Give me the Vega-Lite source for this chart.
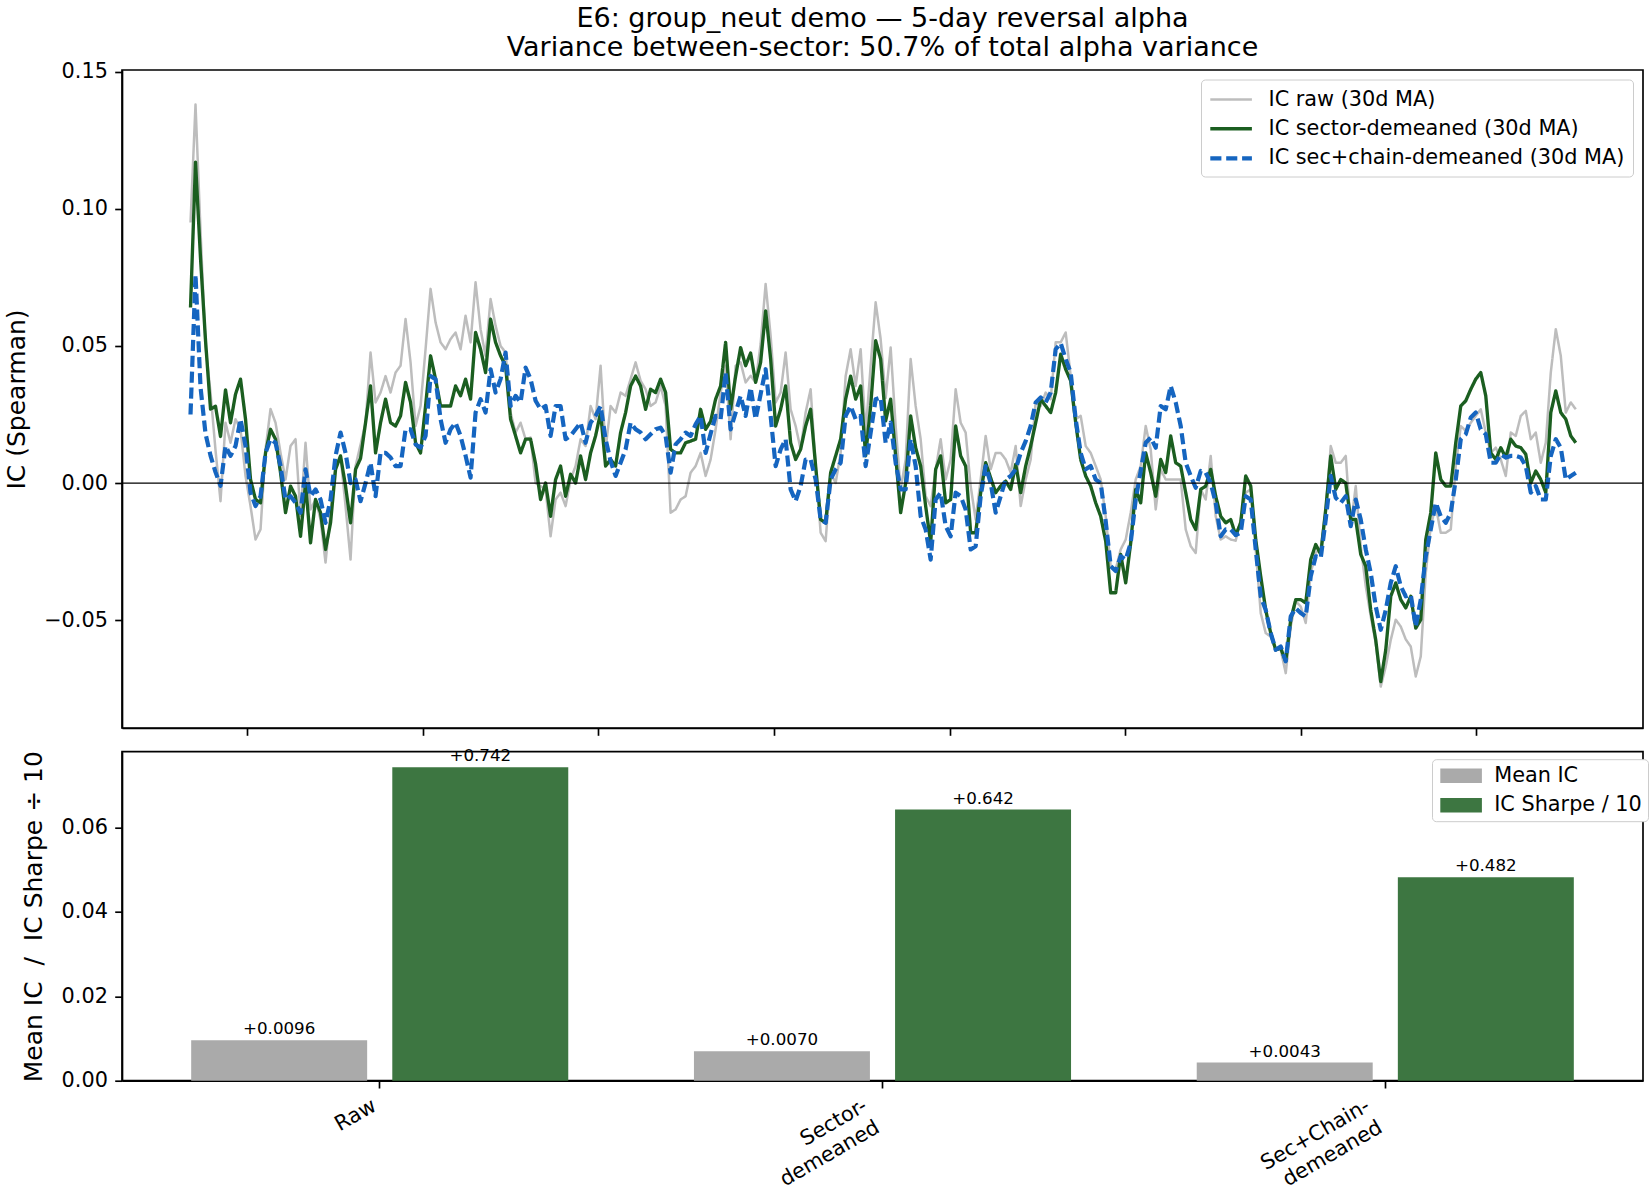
{
"$schema": "https://vega.github.io/schema/vega-lite/v6.json",
"background": "white",
"padding": {"left": 3, "top": 3, "right": 5, "bottom": 5},
"spacing": 9.7,
"config": {
  "font": "DejaVu Sans",
  "view": {"stroke": "black", "strokeWidth": 1.67},
  "axis": {"domainColor": "black", "domainWidth": 1.67, "tickColor": "black", "tickWidth": 1.67, "tickSize": 7.3, "labelPadding": 7.3, "labelFontSize": 20.8, "labelColor": "black", "labelFont": "DejaVu Sans", "titleFont": "DejaVu Sans", "titleFontSize": 25, "titleFontWeight": "normal", "titleColor": "black", "grid": false, "titlePadding": 14.6},
  "legend": {"labelFont": "DejaVu Sans", "labelFontSize": 20.8, "labelColor": "black"},
  "title": {"font": "DejaVu Sans", "fontSize": 27, "fontWeight": "normal", "color": "black"}
},
"resolve": {"scale": {"color": "independent", "strokeDash": "independent", "strokeWidth": "independent"}, "legend": {"color": "independent"}},
"vconcat": [
{
  "width": 1521, "height": 658,
  "title": {"text": ["E6: group_neut demo — 5-day reversal alpha", "Variance between-sector: 50.7% of total alpha variance"], "frame": "group", "anchor": "middle", "lineHeight": 29.5, "offset": -1.5},
  "data": {"values": [
{"i":0,"raw":0.095,"sec":0.064,"chain":0.025},{"i":1,"raw":0.138,"sec":0.117,"chain":0.076},{"i":2,"raw":0.092,"sec":0.082,"chain":0.035},{"i":3,"raw":0.05,"sec":0.052,"chain":0.018},{"i":4,"raw":0.033,"sec":0.027,"chain":0.01},{"i":5,"raw":0.012,"sec":0.028,"chain":0.004},{"i":6,"raw":-0.0066,"sec":0.017,"chain":-0.001},{"i":7,"raw":0.022,"sec":0.034,"chain":0.0135},{"i":8,"raw":0.0147,"sec":0.022,"chain":0.0099},{"i":9,"raw":0.0233,"sec":0.0324,"chain":0.0135},
{"i":10,"raw":0.0196,"sec":0.0379,"chain":0.0233},{"i":11,"raw":0.0026,"sec":0.0233,"chain":0.0135},{"i":12,"raw":-0.0084,"sec":0.0013,"chain":-0.0035},{"i":13,"raw":-0.0206,"sec":-0.006,"chain":-0.0084},{"i":14,"raw":-0.0169,"sec":-0.0072,"chain":-0.0048},{"i":15,"raw":0.0123,"sec":0.011,"chain":0.011},{"i":16,"raw":0.027,"sec":0.0196,"chain":0.016},{"i":17,"raw":0.022,"sec":0.016,"chain":0.0147},{"i":18,"raw":0.011,"sec":0.0038,"chain":0.0062},{"i":19,"raw":0.0013,"sec":-0.0108,"chain":-0.006},
{"i":20,"raw":0.0135,"sec":-0.0011,"chain":-0.0048},{"i":21,"raw":0.016,"sec":-0.0048,"chain":-0.0072},{"i":22,"raw":-0.012,"sec":-0.0194,"chain":-0.0108},{"i":23,"raw":0.0147,"sec":0.0,"chain":0.005},{"i":24,"raw":-0.0096,"sec":-0.0218,"chain":-0.0048},{"i":25,"raw":-0.006,"sec":-0.006,"chain":-0.0023},{"i":26,"raw":-0.0133,"sec":-0.0108,"chain":-0.006},{"i":27,"raw":-0.029,"sec":-0.0242,"chain":-0.0145},{"i":28,"raw":-0.0108,"sec":-0.0145,"chain":-0.006},{"i":29,"raw":0.0062,"sec":0.005,"chain":0.0099},
{"i":30,"raw":0.0099,"sec":0.0099,"chain":0.0184},{"i":31,"raw":-0.0084,"sec":-0.0011,"chain":0.011},{"i":32,"raw":-0.0279,"sec":-0.0145,"chain":0.0},{"i":33,"raw":0.0062,"sec":0.005,"chain":0.0013},{"i":34,"raw":0.014,"sec":0.009,"chain":-0.0066},{"i":35,"raw":0.022,"sec":0.022,"chain":0.0},{"i":36,"raw":0.0476,"sec":0.0354,"chain":0.0074},{"i":37,"raw":0.0294,"sec":0.011,"chain":-0.0048},{"i":38,"raw":0.033,"sec":0.022,"chain":0.011},{"i":39,"raw":0.039,"sec":0.0306,"chain":0.011},
{"i":40,"raw":0.033,"sec":0.022,"chain":0.0093},{"i":41,"raw":0.0403,"sec":0.0208,"chain":0.0062},{"i":42,"raw":0.0428,"sec":0.0245,"chain":0.0062},{"i":43,"raw":0.0598,"sec":0.0367,"chain":0.0196},{"i":44,"raw":0.044,"sec":0.0294,"chain":0.0196},{"i":45,"raw":0.0208,"sec":0.0147,"chain":0.0141},{"i":46,"raw":0.0281,"sec":0.011,"chain":0.0129},{"i":47,"raw":0.0488,"sec":0.0281,"chain":0.0172},{"i":48,"raw":0.0708,"sec":0.0464,"chain":0.039},{"i":49,"raw":0.0586,"sec":0.0379,"chain":0.0379},
{"i":50,"raw":0.0513,"sec":0.0281,"chain":0.0233},{"i":51,"raw":0.0488,"sec":0.0281,"chain":0.0147},{"i":52,"raw":0.0525,"sec":0.0281,"chain":0.0196},{"i":53,"raw":0.0549,"sec":0.0354,"chain":0.022},{"i":54,"raw":0.0488,"sec":0.0318,"chain":0.0172},{"i":55,"raw":0.061,"sec":0.0379,"chain":0.01},{"i":56,"raw":0.0513,"sec":0.0306,"chain":0.002},{"i":57,"raw":0.0732,"sec":0.0549,"chain":0.0257},{"i":58,"raw":0.0561,"sec":0.0488,"chain":0.0306},{"i":59,"raw":0.0464,"sec":0.0403,"chain":0.0257},
{"i":60,"raw":0.0671,"sec":0.0598,"chain":0.0415},{"i":61,"raw":0.0574,"sec":0.0513,"chain":0.033},{"i":62,"raw":0.05,"sec":0.0464,"chain":0.0379},{"i":63,"raw":0.0476,"sec":0.0428,"chain":0.0476},{"i":64,"raw":0.0257,"sec":0.0233,"chain":0.0281},{"i":65,"raw":0.0184,"sec":0.0172,"chain":0.0318},{"i":66,"raw":0.022,"sec":0.011,"chain":0.0294},{"i":67,"raw":0.016,"sec":0.016,"chain":0.0421},{"i":68,"raw":0.0166,"sec":0.016,"chain":0.0379},{"i":69,"raw":0.0,"sec":0.007,"chain":0.03},
{"i":70,"raw":-0.0011,"sec":-0.006,"chain":0.0269},{"i":71,"raw":-0.0023,"sec":0.0,"chain":0.0281},{"i":72,"raw":-0.0194,"sec":-0.0121,"chain":0.0172},{"i":73,"raw":-0.006,"sec":0.0013,"chain":0.0281},{"i":74,"raw":-0.0035,"sec":0.0062,"chain":0.0281},{"i":75,"raw":-0.0084,"sec":-0.0048,"chain":0.016},{"i":76,"raw":0.0013,"sec":0.0032,"chain":0.0172},{"i":77,"raw":0.0062,"sec":0.0,"chain":0.0196},{"i":78,"raw":0.016,"sec":0.0099,"chain":0.022},{"i":79,"raw":0.0135,"sec":0.0013,"chain":0.0147},
{"i":80,"raw":0.0281,"sec":0.011,"chain":0.022},{"i":81,"raw":0.0233,"sec":0.0172,"chain":0.0245},{"i":82,"raw":0.0428,"sec":0.0257,"chain":0.0281},{"i":83,"raw":0.0123,"sec":0.0062,"chain":0.016},{"i":84,"raw":0.0281,"sec":0.0086,"chain":0.008},{"i":85,"raw":0.0257,"sec":0.0062,"chain":0.0026},{"i":86,"raw":0.033,"sec":0.0184,"chain":0.0074},{"i":87,"raw":0.0318,"sec":0.0257,"chain":0.0123},{"i":88,"raw":0.0379,"sec":0.0354,"chain":0.022},{"i":89,"raw":0.044,"sec":0.039,"chain":0.0196},
{"i":90,"raw":0.0373,"sec":0.0354,"chain":0.0184},{"i":91,"raw":0.0342,"sec":0.0269,"chain":0.016},{"i":92,"raw":0.0281,"sec":0.0342,"chain":0.0178},{"i":93,"raw":0.0294,"sec":0.033,"chain":0.0196},{"i":94,"raw":0.0354,"sec":0.0379,"chain":0.0202},{"i":95,"raw":0.0281,"sec":0.033,"chain":0.0172},{"i":96,"raw":-0.0108,"sec":0.0123,"chain":0.0038},{"i":97,"raw":-0.0096,"sec":0.011,"chain":0.0141},{"i":98,"raw":-0.006,"sec":0.011,"chain":0.016},{"i":99,"raw":-0.0048,"sec":0.0147,"chain":0.0184},
{"i":100,"raw":0.0038,"sec":0.0153,"chain":0.0172},{"i":101,"raw":0.0062,"sec":0.016,"chain":0.0214},{"i":102,"raw":0.011,"sec":0.0269,"chain":0.0245},{"i":103,"raw":0.0026,"sec":0.0196,"chain":0.011},{"i":104,"raw":0.0086,"sec":0.0225,"chain":0.018},{"i":105,"raw":0.0196,"sec":0.0306,"chain":0.0245},{"i":106,"raw":0.033,"sec":0.0354,"chain":0.0233},{"i":107,"raw":0.0428,"sec":0.0513,"chain":0.0403},{"i":108,"raw":0.016,"sec":0.0269,"chain":0.0196},{"i":109,"raw":0.0428,"sec":0.039,"chain":0.0257},
{"i":110,"raw":0.044,"sec":0.0494,"chain":0.0318},{"i":111,"raw":0.0367,"sec":0.0428,"chain":0.0245},{"i":112,"raw":0.0391,"sec":0.0474,"chain":0.0348},{"i":113,"raw":0.0367,"sec":0.0367,"chain":0.0233},{"i":114,"raw":0.0507,"sec":0.044,"chain":0.0324},{"i":115,"raw":0.0726,"sec":0.0628,"chain":0.0415},{"i":116,"raw":0.0537,"sec":0.0452,"chain":0.0245},{"i":117,"raw":0.0294,"sec":0.0208,"chain":0.0062},{"i":118,"raw":0.033,"sec":0.0269,"chain":0.0123},{"i":119,"raw":0.0476,"sec":0.0354,"chain":0.016},
{"i":120,"raw":0.0269,"sec":0.0147,"chain":-0.0023},{"i":121,"raw":0.0208,"sec":0.0086,"chain":-0.0066},{"i":122,"raw":0.0123,"sec":0.0123,"chain":-0.0011},{"i":123,"raw":0.0257,"sec":0.0208,"chain":0.0086},{"i":124,"raw":0.0342,"sec":0.0269,"chain":0.0086},{"i":125,"raw":0.0062,"sec":0.0062,"chain":0.0013},{"i":126,"raw":-0.0181,"sec":-0.0133,"chain":-0.0133},{"i":127,"raw":-0.0212,"sec":-0.0145,"chain":-0.0145},{"i":128,"raw":0.0038,"sec":0.0038,"chain":0.0013},{"i":129,"raw":0.0,"sec":0.0099,"chain":0.005},
{"i":130,"raw":0.011,"sec":0.016,"chain":0.0074},{"i":131,"raw":0.039,"sec":0.0306,"chain":0.0245},{"i":132,"raw":0.0488,"sec":0.039,"chain":0.0281},{"i":133,"raw":0.0354,"sec":0.0306,"chain":0.0233},{"i":134,"raw":0.0488,"sec":0.0354,"chain":0.0245},{"i":135,"raw":0.0184,"sec":0.0099,"chain":0.0062},{"i":136,"raw":0.0428,"sec":0.0281,"chain":0.0184},{"i":137,"raw":0.0659,"sec":0.0519,"chain":0.0306},{"i":138,"raw":0.0525,"sec":0.0452,"chain":0.0312},{"i":139,"raw":0.031,"sec":0.0227,"chain":0.0147},
{"i":140,"raw":0.0494,"sec":0.0306,"chain":0.022},{"i":141,"raw":0.0208,"sec":0.0099,"chain":0.0074},{"i":142,"raw":-0.0023,"sec":-0.0108,"chain":-0.0023},{"i":143,"raw":0.0086,"sec":0.0,"chain":-0.0023},{"i":144,"raw":0.0452,"sec":0.0245,"chain":0.016},{"i":145,"raw":0.0281,"sec":0.0129,"chain":0.0062},{"i":146,"raw":0.016,"sec":0.0062,"chain":-0.0121},{"i":147,"raw":-0.0048,"sec":-0.0084,"chain":-0.0169},{"i":148,"raw":-0.0084,"sec":-0.0218,"chain":-0.0279},{"i":149,"raw":0.005,"sec":0.005,"chain":-0.006},
{"i":150,"raw":0.016,"sec":0.0099,"chain":-0.0035},{"i":151,"raw":0.0013,"sec":-0.0072,"chain":-0.0157},{"i":152,"raw":0.0086,"sec":-0.006,"chain":-0.0194},{"i":153,"raw":0.0342,"sec":0.0208,"chain":-0.0035},{"i":154,"raw":0.022,"sec":0.0099,"chain":-0.0048},{"i":155,"raw":0.0184,"sec":0.0062,"chain":-0.0096},{"i":156,"raw":-0.0011,"sec":-0.0181,"chain":-0.0242},{"i":157,"raw":-0.0133,"sec":-0.0181,"chain":-0.023},{"i":158,"raw":0.0013,"sec":-0.0035,"chain":-0.0048},{"i":159,"raw":0.0172,"sec":0.0074,"chain":0.0062},
{"i":160,"raw":0.005,"sec":0.0019,"chain":0.0},{"i":161,"raw":0.011,"sec":-0.0035,"chain":-0.0108},{"i":162,"raw":0.011,"sec":-0.0011,"chain":-0.0048},{"i":163,"raw":0.0086,"sec":0.0007,"chain":0.0013},{"i":164,"raw":0.0038,"sec":-0.0023,"chain":0.0026},{"i":165,"raw":0.0135,"sec":0.0068,"chain":0.005},{"i":166,"raw":-0.0084,"sec":-0.0035,"chain":0.011},{"i":167,"raw":0.0013,"sec":0.0062,"chain":0.0153},{"i":168,"raw":0.0086,"sec":0.0135,"chain":0.0208},{"i":169,"raw":0.0294,"sec":0.022,"chain":0.0294},
{"i":170,"raw":0.0281,"sec":0.0306,"chain":0.0312},{"i":171,"raw":0.033,"sec":0.0281,"chain":0.0294},{"i":172,"raw":0.0306,"sec":0.0257,"chain":0.033},{"i":173,"raw":0.0513,"sec":0.033,"chain":0.0488},{"i":174,"raw":0.0513,"sec":0.047,"chain":0.051},{"i":175,"raw":0.0549,"sec":0.0415,"chain":0.0452},{"i":176,"raw":0.0391,"sec":0.0373,"chain":0.0403},{"i":177,"raw":0.0233,"sec":0.022,"chain":0.0233},{"i":178,"raw":0.0245,"sec":0.0086,"chain":0.011},{"i":179,"raw":0.0135,"sec":0.0026,"chain":0.005},
{"i":180,"raw":0.011,"sec":-0.0011,"chain":0.0062},{"i":181,"raw":0.0062,"sec":-0.0072,"chain":0.0013},{"i":182,"raw":0.0013,"sec":-0.0121,"chain":0.0},{"i":183,"raw":-0.0121,"sec":-0.0212,"chain":-0.0139},{"i":184,"raw":-0.0303,"sec":-0.04,"chain":-0.0303},{"i":185,"raw":-0.0315,"sec":-0.04,"chain":-0.0321},{"i":186,"raw":-0.0242,"sec":-0.026,"chain":-0.0267},{"i":187,"raw":-0.0206,"sec":-0.0364,"chain":-0.0279},{"i":188,"raw":-0.0108,"sec":-0.0218,"chain":-0.0218},{"i":189,"raw":0.0013,"sec":-0.0023,"chain":-0.006},
{"i":190,"raw":0.0062,"sec":-0.0072,"chain":0.0044},{"i":191,"raw":0.0208,"sec":0.011,"chain":0.0147},{"i":192,"raw":0.0123,"sec":0.0038,"chain":0.0166},{"i":193,"raw":-0.0096,"sec":-0.0048,"chain":0.0129},{"i":194,"raw":0.005,"sec":0.0086,"chain":0.0281},{"i":195,"raw":0.0013,"sec":0.0038,"chain":0.0269},{"i":196,"raw":0.0013,"sec":0.0172,"chain":0.0354},{"i":197,"raw":0.0013,"sec":0.0074,"chain":0.0294},{"i":198,"raw":0.0013,"sec":0.0062,"chain":0.0208},{"i":199,"raw":-0.0169,"sec":-0.0035,"chain":0.0074},
{"i":200,"raw":-0.023,"sec":-0.0133,"chain":0.0026},{"i":201,"raw":-0.0255,"sec":-0.0169,"chain":-0.0017},{"i":202,"raw":-0.0023,"sec":-0.0023,"chain":0.0044},{"i":203,"raw":-0.006,"sec":-0.0011,"chain":0.0038},{"i":204,"raw":0.0099,"sec":0.005,"chain":0.0},{"i":205,"raw":-0.0121,"sec":-0.0048,"chain":-0.0072},{"i":206,"raw":-0.0206,"sec":-0.0121,"chain":-0.0194},{"i":207,"raw":-0.0194,"sec":-0.0145,"chain":-0.0169},{"i":208,"raw":-0.0206,"sec":-0.0133,"chain":-0.0169},{"i":209,"raw":-0.021,"sec":-0.019,"chain":-0.019},
{"i":210,"raw":-0.0133,"sec":-0.0145,"chain":-0.0181},{"i":211,"raw":-0.0035,"sec":0.0026,"chain":-0.0048},{"i":212,"raw":-0.0023,"sec":-0.0011,"chain":-0.006},{"i":213,"raw":-0.0242,"sec":-0.0206,"chain":-0.0242},{"i":214,"raw":-0.0474,"sec":-0.034,"chain":-0.0413},{"i":215,"raw":-0.0547,"sec":-0.0463,"chain":-0.0463},{"i":216,"raw":-0.056,"sec":-0.0547,"chain":-0.0547},{"i":217,"raw":-0.0608,"sec":-0.0608,"chain":-0.0608},{"i":218,"raw":-0.0608,"sec":-0.0602,"chain":-0.0596},{"i":219,"raw":-0.0693,"sec":-0.065,"chain":-0.065},
{"i":220,"raw":-0.0523,"sec":-0.0498,"chain":-0.0486},{"i":221,"raw":-0.0431,"sec":-0.0425,"chain":-0.0456},{"i":222,"raw":-0.045,"sec":-0.0425,"chain":-0.0474},{"i":223,"raw":-0.051,"sec":-0.0437,"chain":-0.0486},{"i":224,"raw":-0.0328,"sec":-0.0279,"chain":-0.034},{"i":225,"raw":-0.0255,"sec":-0.0224,"chain":-0.0267},{"i":226,"raw":-0.0236,"sec":-0.026,"chain":-0.0273},{"i":227,"raw":-0.0096,"sec":-0.0096,"chain":-0.0133},{"i":228,"raw":0.0135,"sec":0.0099,"chain":0.0026},{"i":229,"raw":0.0074,"sec":-0.0023,"chain":-0.0054},
{"i":230,"raw":0.0074,"sec":0.0013,"chain":-0.0072},{"i":231,"raw":0.0099,"sec":0.0,"chain":-0.0048},{"i":232,"raw":-0.0157,"sec":-0.0133,"chain":-0.0157},{"i":233,"raw":-0.0011,"sec":-0.0133,"chain":-0.006},{"i":234,"raw":-0.023,"sec":-0.026,"chain":-0.0133},{"i":235,"raw":-0.0376,"sec":-0.0303,"chain":-0.0242},{"i":236,"raw":-0.0486,"sec":-0.0463,"chain":-0.0328},{"i":237,"raw":-0.0584,"sec":-0.0572,"chain":-0.045},{"i":238,"raw":-0.0742,"sec":-0.0724,"chain":-0.0535},{"i":239,"raw":-0.0669,"sec":-0.0608,"chain":-0.0463},
{"i":240,"raw":-0.0572,"sec":-0.0413,"chain":-0.0364},{"i":241,"raw":-0.0498,"sec":-0.0364,"chain":-0.0303},{"i":242,"raw":-0.0523,"sec":-0.0425,"chain":-0.0376},{"i":243,"raw":-0.057,"sec":-0.0455,"chain":-0.0413},{"i":244,"raw":-0.0596,"sec":-0.0413,"chain":-0.0407},{"i":245,"raw":-0.0705,"sec":-0.0529,"chain":-0.0523},{"i":246,"raw":-0.0632,"sec":-0.0498,"chain":-0.0425},{"i":247,"raw":-0.0328,"sec":-0.0206,"chain":-0.0267},{"i":248,"raw":-0.0157,"sec":-0.0108,"chain":-0.0169},{"i":249,"raw":-0.0084,"sec":0.011,"chain":-0.0072},
{"i":250,"raw":-0.0181,"sec":0.0013,"chain":-0.0121},{"i":251,"raw":-0.0181,"sec":-0.0011,"chain":-0.0145},{"i":252,"raw":-0.0169,"sec":-0.0011,"chain":-0.0108},{"i":253,"raw":0.0062,"sec":0.0147,"chain":0.0013},{"i":254,"raw":0.0208,"sec":0.0281,"chain":0.016},{"i":255,"raw":0.019,"sec":0.03,"chain":0.0178},{"i":256,"raw":0.022,"sec":0.0342,"chain":0.0239},{"i":257,"raw":0.0245,"sec":0.0379,"chain":0.0257},{"i":258,"raw":0.0269,"sec":0.0403,"chain":0.0196},{"i":259,"raw":0.0184,"sec":0.0318,"chain":0.0178},
{"i":260,"raw":0.011,"sec":0.011,"chain":0.0074},{"i":261,"raw":0.0129,"sec":0.0086,"chain":0.0074},{"i":262,"raw":0.0086,"sec":0.0129,"chain":0.0105},{"i":263,"raw":0.0026,"sec":0.0093,"chain":0.0093},{"i":264,"raw":0.0184,"sec":0.016,"chain":0.0099},{"i":265,"raw":0.0172,"sec":0.0135,"chain":0.0099},{"i":266,"raw":0.0245,"sec":0.0129,"chain":0.0093},{"i":267,"raw":0.0263,"sec":0.0105,"chain":0.0062},{"i":268,"raw":0.016,"sec":0.0,"chain":-0.0035},{"i":269,"raw":0.0184,"sec":0.0044,"chain":-0.0011},
{"i":270,"raw":0.0074,"sec":0.0013,"chain":-0.006},{"i":271,"raw":0.0147,"sec":-0.0035,"chain":-0.006},{"i":272,"raw":0.0403,"sec":0.0257,"chain":0.0099},{"i":273,"raw":0.0561,"sec":0.0336,"chain":0.016},{"i":274,"raw":0.0464,"sec":0.0257,"chain":0.0129},{"i":275,"raw":0.0257,"sec":0.0233,"chain":0.0013},{"i":276,"raw":0.0294,"sec":0.0172,"chain":0.0026},{"i":277,"raw":0.0269,"sec":0.0147,"chain":0.0038}
  ]},
  "layer": [
    {
      "transform": [{"fold": ["raw", "sec", "chain"], "as": ["series", "ic"]}],
      "mark": {"type": "line", "strokeJoin": "round", "strokeCap": "butt"},
      "encoding": {
        "x": {"field": "i", "type": "quantitative", "scale": {"domain": [-13.7, 290.44], "nice": false, "zero": false}, "axis": {"values": [11.3, 46.42, 81.54, 116.66, 151.78, 186.9, 222.02, 257.14], "labels": false, "title": null}},
        "y": {"field": "ic", "type": "quantitative", "scale": {"domain": [-0.0893, 0.1506], "nice": false, "zero": false}, "axis": {"values": [-0.05, 0, 0.05, 0.1, 0.15], "labelExpr": "replace(format(datum.value, '.2f'), '-', '−')", "title": "IC (Spearman)"}},
        "color": {"field": "series", "type": "nominal", "scale": {"domain": ["raw", "sec", "chain"], "range": ["#bdbdbd", "#1b5e20", "#1565c0"]},
          "legend": {"title": null, "orient": "none", "legendX": 1079, "legendY": 9.5, "symbolType": "M-2,0H2", "symbolSize": 432.6, "symbolOffset": 9.6, "labelFontSize": 20.8, "padding": 8, "rowPadding": 6.7, "strokeColor": "#cccccc", "fillColor": "white", "cornerRadius": 4, "labelOffset": 24.9, "labelLimit": 0, "labelExpr": "datum.label == 'raw' ? 'IC raw (30d MA)' : datum.label == 'sec' ? 'IC sector-demeaned (30d MA)' : 'IC sec+chain-demeaned (30d MA)'"}},
        "strokeDash": {"field": "series", "type": "nominal", "scale": {"domain": ["raw", "sec", "chain"], "range": [[1, 0], [1, 0], [11.1, 4.8]]},
          "legend": {"title": null, "orient": "none", "legendX": 1079, "legendY": 9.5, "symbolType": "M-2,0H2", "symbolSize": 432.6, "symbolOffset": 9.6, "labelFontSize": 20.8, "padding": 8, "rowPadding": 6.7, "strokeColor": "#cccccc", "fillColor": "white", "cornerRadius": 4, "labelOffset": 24.9, "labelLimit": 0, "labelExpr": "datum.label == 'raw' ? 'IC raw (30d MA)' : datum.label == 'sec' ? 'IC sector-demeaned (30d MA)' : 'IC sec+chain-demeaned (30d MA)'"}},
        "strokeWidth": {"field": "series", "type": "nominal", "scale": {"domain": ["raw", "sec", "chain"], "range": [2.5, 4.2, 3.1]},
          "legend": {"title": null, "orient": "none", "legendX": 1079, "legendY": 9.5, "symbolType": "M-2,0H2", "symbolSize": 432.6, "symbolOffset": 9.6, "labelFontSize": 20.8, "padding": 8, "rowPadding": 6.7, "strokeColor": "#cccccc", "fillColor": "white", "cornerRadius": 4, "labelOffset": 24.9, "labelLimit": 0, "labelExpr": "datum.label == 'raw' ? 'IC raw (30d MA)' : datum.label == 'sec' ? 'IC sector-demeaned (30d MA)' : 'IC sec+chain-demeaned (30d MA)'"}}
      }
    },
    {
      "data": {"values": [{"zero": 0}]},
      "mark": {"type": "rule", "color": "black", "strokeWidth": 1.2},
      "encoding": {"y": {"field": "zero", "type": "quantitative"}}
    }
  ]
},
{
  "width": 1521, "height": 329,
  "data": {"values": [
    {"method": "Raw", "metric": "Mean IC", "value": 0.0096, "label": "+0.0096"},
    {"method": "Raw", "metric": "IC Sharpe / 10", "value": 0.0742, "label": "+0.742"},
    {"method": "Sector-demeaned", "metric": "Mean IC", "value": 0.0070, "label": "+0.0070"},
    {"method": "Sector-demeaned", "metric": "IC Sharpe / 10", "value": 0.0642, "label": "+0.642"},
    {"method": "Sec+Chain-demeaned", "metric": "Mean IC", "value": 0.0043, "label": "+0.0043"},
    {"method": "Sec+Chain-demeaned", "metric": "IC Sharpe / 10", "value": 0.0482, "label": "+0.482"}
  ]},
  "encoding": {
    "x": {"field": "method", "type": "nominal", "sort": ["Raw", "Sector-demeaned", "Sec+Chain-demeaned"], "scale": {"paddingInner": 0.25, "paddingOuter": 0.1376},
      "axis": {"title": null, "labelAngle": -30, "labelAlign": "right", "labelBaseline": "top", "labelLineHeight": 25, "labelOffset": {"condition": {"test": "datum.value == 'Raw'", "value": -10}, "value": -22}, "labelExpr": "datum.value == 'Raw' ? 'Raw' : datum.value == 'Sector-demeaned' ? ['Sector-', 'demeaned'] : ['Sec+Chain-', 'demeaned']"}},
    "xOffset": {"field": "metric", "type": "nominal", "sort": ["Mean IC", "IC Sharpe / 10"], "scale": {"paddingInner": 0.125, "paddingOuter": 0}},
    "y": {"field": "value", "type": "quantitative", "scale": {"domain": [0, 0.0779], "nice": false, "zero": true}, "axis": {"values": [0, 0.02, 0.04, 0.06], "format": ".2f", "title": "Mean IC\u00a0\u00a0/\u00a0\u00a0IC Sharpe ÷ 10"}}
  },
  "layer": [
    {
      "mark": {"type": "bar"},
      "encoding": {"color": {"field": "metric", "type": "nominal", "scale": {"domain": ["Mean IC", "IC Sharpe / 10"], "range": ["#aaaaaa", "#3d7641"]},
        "legend": {"title": null, "orient": "none", "legendX": 1310, "legendY": 7.5, "symbolType": "M-2,-0.7H2V0.7H-2Z", "symbolSize": 432.6, "symbolOffset": 12.6, "symbolStrokeWidth": 0, "labelFontSize": 20.8, "padding": 6, "rowPadding": 7.6, "strokeColor": "#cccccc", "fillColor": "white", "cornerRadius": 4, "labelOffset": 22.6, "labelLimit": 0}}}
    },
    {
      "mark": {"type": "text", "baseline": "bottom", "dy": -2, "fontSize": 16.7, "color": "black"},
      "encoding": {"text": {"field": "label"}}
    }
  ]
}
]
}
